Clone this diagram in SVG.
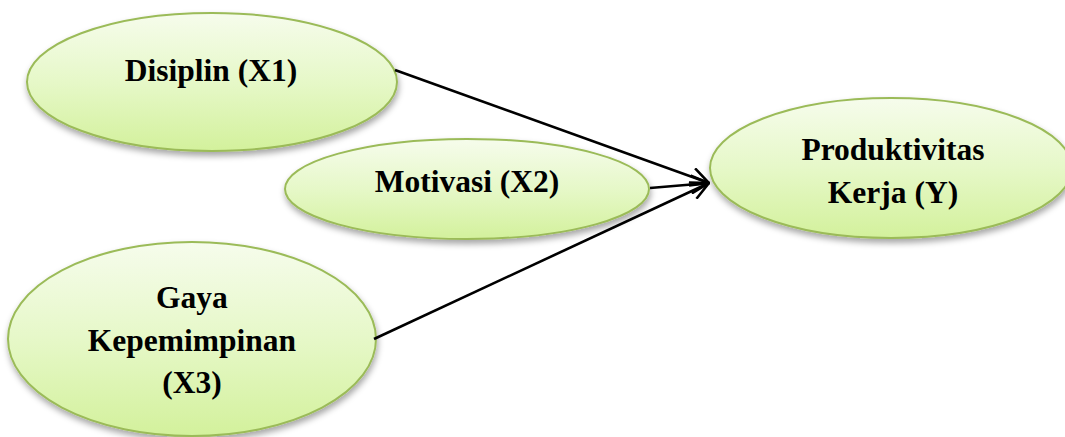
<svg xmlns="http://www.w3.org/2000/svg" width="1065" height="437" viewBox="0 0 1065 437">
  <defs>
    <linearGradient id="g" x1="0" y1="0" x2="0" y2="1">
      <stop offset="0" stop-color="#f6fcec"/>
      <stop offset="0.5" stop-color="#e6f8c8"/>
      <stop offset="1" stop-color="#d3f19c"/>
    </linearGradient>
    <filter id="sh" x="-10%" y="-10%" width="120%" height="130%">
      <feDropShadow dx="1" dy="4" stdDeviation="3" flood-color="#000" flood-opacity="0.35"/>
    </filter>
    <marker id="ah" viewBox="0 0 20 20" refX="19" refY="10" markerWidth="20" markerHeight="20" markerUnits="userSpaceOnUse" orient="auto">
      <path d="M1,1 L19,10 L1,19" fill="none" stroke="#000" stroke-width="2.6" stroke-linejoin="miter"/>
    </marker>
  </defs>
  <style>
    .node ellipse { fill: url(#g); stroke: #9bbb59; stroke-width: 2; filter: url(#sh); }
    .node text { font-family: "Liberation Serif", "Times New Roman", serif; font-weight: bold; font-size: 31.5px; fill: #000; text-anchor: middle; }
    .conn line { stroke: #000; stroke-width: 2.6; marker-end: url(#ah); }
  </style>
  <g id="node-x1" class="node">
    <ellipse cx="212" cy="82" rx="185" ry="69"/>
    <text x="211" y="81">Disiplin (X1)</text>
  </g>
  <g id="node-x2" class="node">
    <ellipse cx="467" cy="189" rx="182" ry="50"/>
    <text x="467" y="192">Motivasi (X2)</text>
  </g>
  <g id="node-x3" class="node">
    <ellipse cx="192" cy="339" rx="184" ry="97"/>
    <text x="192" y="308">Gaya</text>
    <text x="192" y="351">Kepemimpinan</text>
    <text x="192" y="393">(X3)</text>
  </g>
  <g id="node-y" class="node">
    <ellipse cx="891" cy="168" rx="181" ry="70"/>
    <text x="893" y="160">Produktivitas</text>
    <text x="893" y="203">Kerja (Y)</text>
  </g>
  <g id="connectors" class="conn">
    <line x1="395" y1="70" x2="709" y2="183"/>
    <line x1="650" y1="188" x2="709" y2="183"/>
    <line x1="374" y1="339" x2="709" y2="183"/>
  </g>
</svg>
